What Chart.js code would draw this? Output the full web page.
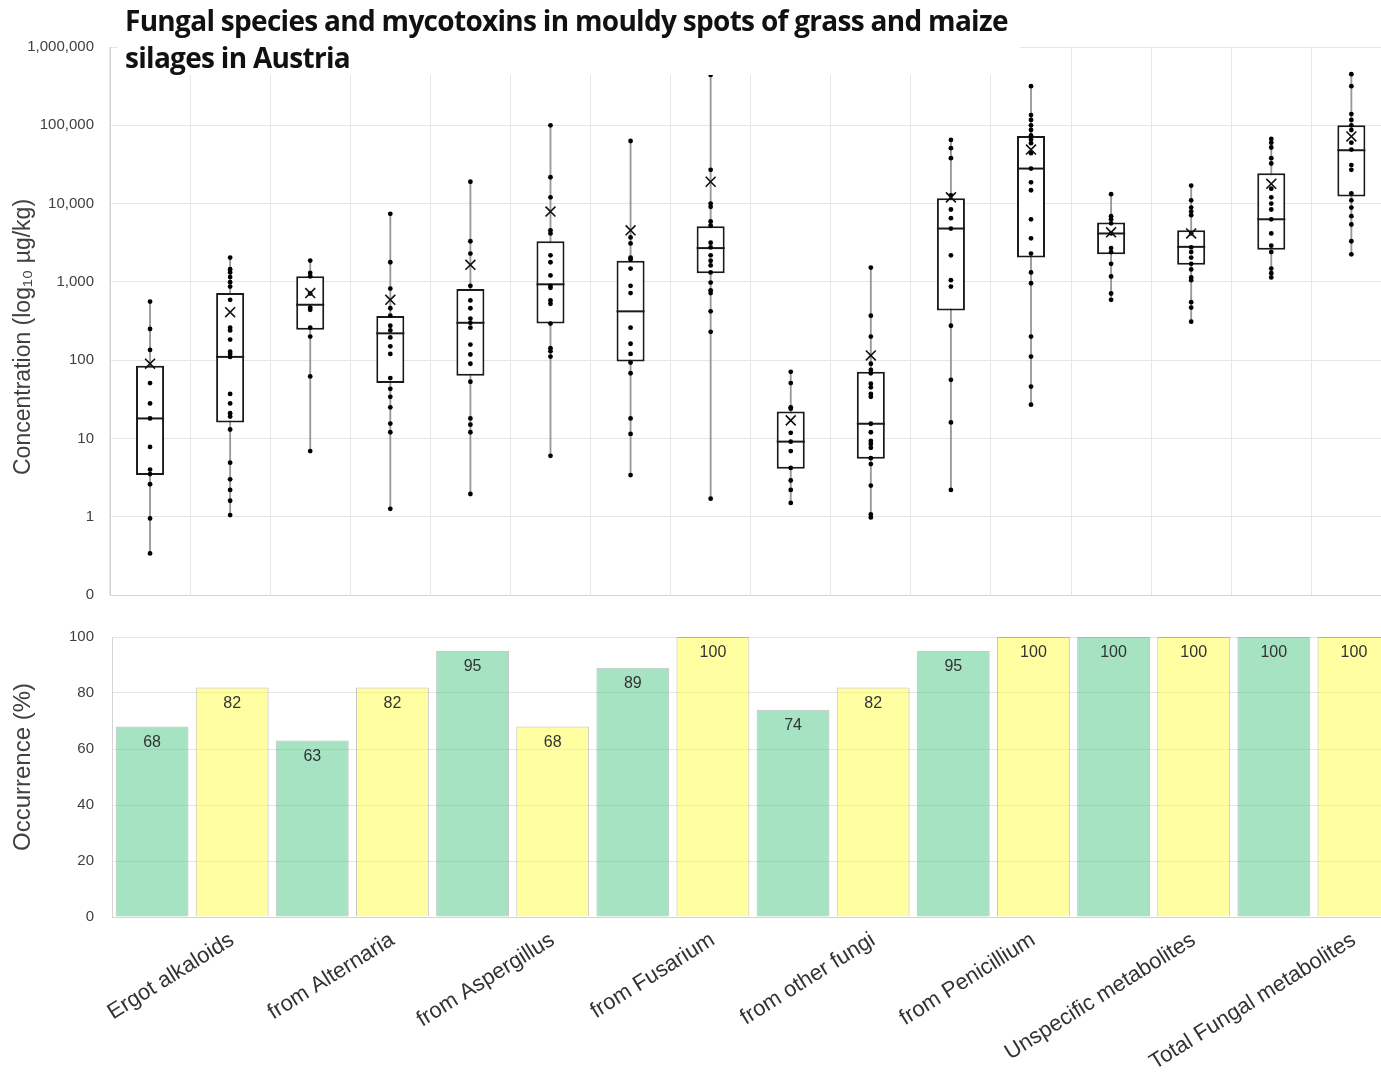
<!DOCTYPE html>
<html>
<head>
<meta charset="utf-8">
<script src="https://cdn.jsdelivr.net/npm/chart.js@4.4.1/dist/chart.umd.min.js"></script>
<style>
  html, body { margin: 0; padding: 0; background: #fff; overflow: hidden; }
  #page { position: relative; width: 1400px; height: 1080px; }
  #topBox { position: absolute; left: 0; top: 0; width: 1400px; height: 620px; }
  #bottomBox { position: absolute; left: 0; top: 610px; width: 1400px; height: 470px; }
  #title {
    position: absolute; left: 118px; top: 0; width: 902px; height: 75px;
    background: #fff; box-sizing: border-box; padding: 2px 0 0 7px;
    font-family: "Open Sans", sans-serif; font-weight: 700; font-size: 28px;
    line-height: 37px; letter-spacing: -0.7px; color: #111;
  }
</style>
</head>
<body>
<div id="page">
  <div id="topBox"><canvas id="boxChart"></canvas></div>
  <div id="title">Fungal species and mycotoxins in mouldy spots of grass and maize<br>silages in Austria</div>
  <div id="bottomBox"><canvas id="occChart"></canvas></div>
</div>
<script>
// groups on the x axis (each one has a grass box and a maize box)
const groupLabels = ['Ergot alkaloids', 'from Alternaria', 'from Aspergillus', 'from Fusarium',
  'from other fungi', 'from Penicillium', 'Unspecific metabolites', 'Total Fungal metabolites'];
const boxNames = groupLabels.flatMap(g => [g + ' (grass)', g + ' (maize)']);

// box plot values, µg/kg
const q1 = [3.4, 16, 245, 51, 63, 293, 96, 1290, 4.1, 5.5, 430, 2040, 2250, 1660, 2570, 12300];
const median = [18, 110, 510, 220, 300, 930, 420, 2700, 9.1, 15.4, 4800, 28000, 4150, 2800, 6300, 48000];
const q3 = [85, 720, 1180, 365, 810, 3300, 1860, 5130, 22, 71, 11700, 73000, 5750, 4560, 24400, 100000];
const whiskerLow = [0.34, 1.05, 6.9, 1.26, 1.95, 6.0, 3.4, 1.7, 1.5, 0.98, 2.2, 27, 590, 310, 1140, 2250];
const whiskerHigh = [560, 2040, 1870, 7400, 19000, 100000, 63000, 440000, 71, 1520, 65000, 316000, 13200, 17000, 67000, 450000];
const means = [90, 410, 720, 590, 1650, 7900, 4550, 19000, 17, 115, 12000, 49000, 4300, 4150, 17900, 72000];

// single samples shown as dots
const samples = [
  [560, 250, 135, 51, 28, 18, 7.8, 4, 3.5, 2.6, 0.95, 0.34],
  [2040, 1450, 1320, 1150, 990, 870, 590, 260, 240, 183, 128, 120, 110, 37, 28, 21, 19, 13, 4.9, 3.0, 2.2, 1.6, 1.05],
  [1870, 1300, 1180, 710, 470, 440, 260, 200, 62, 6.9],
  [7400, 1780, 820, 460, 370, 275, 240, 195, 150, 120, 59, 43, 34, 25, 15.5, 12, 1.26],
  [19000, 3300, 2300, 890, 580, 460, 340, 300, 260, 158, 118, 90, 53, 18, 15, 12, 1.95],
  [100000, 21700, 12000, 4550, 4150, 2180, 1780, 1210, 890, 840, 580, 525, 293, 142, 130, 111, 6.0],
  [63000, 3700, 3100, 2040, 1930, 1480, 890, 720, 260, 162, 120, 93, 68, 18, 11.4, 3.4],
  [440000, 27000, 10000, 9100, 5900, 5250, 3160, 2750, 2180, 1860, 1620, 1320, 980, 780, 720, 420, 230, 1.7],
  [71, 51, 25, 24, 11.8, 9.1, 6.9, 4.2, 2.9, 2.2, 1.5],
  [1520, 370, 200, 90, 75, 68, 50, 45, 37, 34, 15.4, 12, 9.3, 8.5, 7.6, 5.6, 4.7, 2.5, 1.07, 0.98],
  [65000, 51000, 38000, 12700, 8400, 6500, 4800, 2180, 1050, 870, 275, 56, 16, 2.2],
  [316000, 135000, 117000, 100000, 87000, 74000, 66000, 59000, 44000, 28000, 18700, 14800, 6300, 3600, 2300, 1320, 960, 200, 111, 46, 27],
  [13200, 6900, 6300, 5600, 4150, 2700, 2400, 1700, 1170, 710, 590],
  [17000, 11000, 8900, 7900, 7100, 4150, 2750, 2400, 2040, 1700, 1440, 1140, 1050, 550, 470, 310],
  [67000, 60000, 52000, 38000, 32500, 15500, 12000, 10000, 8400, 6300, 4150, 2900, 2400, 1480, 1290, 1140],
  [450000, 316000, 139000, 117000, 100000, 87000, 60000, 49000, 31000, 27000, 13500, 11000, 8900, 6900, 5400, 3300, 2250]
];

// log axis ticks (0.1 is shown as "0")
const concTicks = [0.1, 1, 10, 100, 1000, 10000, 100000, 1000000];

// occurrence in %
const occurrence = [68, 82, 63, 82, 95, 68, 89, 100, 74, 82, 95, 100, 100, 100, 100, 100];

const fontFamily = 'Liberation Sans, Arial, sans-serif';
const tickFont = { family: fontFamily, size: 15 };
const gridGray = '#e6e6e6';
const axisGray = '#d4d4d4';
const nb = n => '\u00a0'.repeat(n); // spaces to nudge the axis titles off centre

// median lines get drawn right after the boxes
const medianPlugin = {
  id: 'medians',
  afterDatasetDraw(chart, args) {
    if (args.meta.label !== 'box') return;
    const ctx = chart.ctx;
    const y = chart.scales.y;
    ctx.save();
    ctx.strokeStyle = '#1a1a1a';
    ctx.lineWidth = 2;
    args.meta.data.forEach((bar, i) => {
      const py = y.getPixelForValue(median[i]);
      ctx.beginPath();
      ctx.moveTo(bar.x - bar.width / 2, py);
      ctx.lineTo(bar.x + bar.width / 2, py);
      ctx.stroke();
    });
    ctx.restore();
  }
};

const dotData = [];
samples.forEach((list, i) => list.forEach(v => dotData.push({ x: boxNames[i], y: v })));

new Chart(document.getElementById('boxChart'), {
  type: 'bar',
  data: {
    labels: boxNames,
    datasets: [
      {
        type: 'scatter', label: 'mean', order: 0,
        data: means.map((v, i) => ({ x: boxNames[i], y: v })),
        pointStyle: 'crossRot', pointRadius: 7, borderColor: '#111', borderWidth: 1.6,
        backgroundColor: 'transparent'
      },
      {
        type: 'scatter', label: 'samples', order: 1,
        data: dotData,
        pointRadius: 2.4, backgroundColor: '#000', borderColor: '#000', borderWidth: 0
      },
      {
        label: 'box', order: 2, grouped: false,
        data: q1.map((v, i) => [v, q3[i]]),
        backgroundColor: '#fff', borderColor: '#1a1a1a', borderWidth: 2, borderSkipped: false,
        barPercentage: 0.35, categoryPercentage: 1
      },
      {
        label: 'whisker', order: 3, grouped: false,
        data: whiskerLow.map((v, i) => [v, whiskerHigh[i]]),
        backgroundColor: '#999', borderWidth: 0, barThickness: 1.2
      }
    ]
  },
  options: {
    responsive: true, maintainAspectRatio: false, animation: false,
    layout: { padding: { top: 47, bottom: 6, right: 6, left: 10 } },
    plugins: { legend: { display: false }, tooltip: { enabled: false } },
    scales: {
      x: {
        type: 'category', offset: true,
        afterFit: s => { s.height = 0; },
        grid: { color: gridGray, offset: true, drawTicks: false },
        border: { color: axisGray },
        ticks: { display: false }
      },
      y: {
        type: 'logarithmic', min: 0.1, max: 1000000,
        afterBuildTicks: s => { s.ticks = concTicks.map(v => ({ value: v })); },
        afterFit: s => { s.width = 100; },
        grid: { color: gridGray, drawTicks: false },
        border: { color: axisGray },
        ticks: {
          font: tickFont, color: '#404040', padding: 16,
          callback: v => v < 1 ? '0' : Number(v).toLocaleString('en-US')
        },
        title: {
          display: true, text: 'Concentration (log₁₀ µg/kg)' + nb(5), color: '#404040',
          font: { family: fontFamily, size: 23 }, padding: { top: 0, bottom: 2 }
        }
      }
    }
  },
  plugins: [medianPlugin]
});

// value labels inside the bars
const barLabelPlugin = {
  id: 'barLabels',
  afterDatasetsDraw(chart) {
    const ctx = chart.ctx;
    ctx.save();
    ctx.font = '16px ' + fontFamily;
    ctx.fillStyle = '#333';
    ctx.textAlign = 'center';
    ctx.textBaseline = 'middle';
    chart.getDatasetMeta(0).data.forEach((bar, i) => {
      ctx.fillText(String(occurrence[i]), bar.x, bar.y + 16);
    });
    ctx.restore();
  }
};

new Chart(document.getElementById('occChart'), {
  type: 'bar',
  data: {
    labels: boxNames,
    datasets: [{
      data: occurrence,
      backgroundColor: occurrence.map((v, i) => i % 2 === 0 ? 'rgba(77,200,135,0.5)' : 'rgba(255,255,70,0.5)'),
      borderColor: 'rgba(0,0,0,0.22)', borderWidth: 1,
      barPercentage: 0.91, categoryPercentage: 1
    }]
  },
  options: {
    responsive: true, maintainAspectRatio: false, animation: false,
    layout: { padding: { top: 21, right: 6, left: 9, bottom: 0 } },
    plugins: { legend: { display: false }, tooltip: { enabled: false } },
    scales: {
      x: {
        grid: { display: false },
        border: { color: axisGray },
        afterFit: s => { s.height = 163; },
        ticks: {
          autoSkip: false, maxRotation: 32, minRotation: 32, padding: 2,
          font: { family: fontFamily, size: 22 }, color: '#333',
          callback: (v, i) => i % 2 === 1 ? groupLabels[(i - 1) / 2] : ''
        }
      },
      y: {
        min: 0, max: 100,
        afterFit: s => { s.width = 103; },
        grid: { color: gridGray, drawTicks: false },
        border: { color: axisGray },
        ticks: { stepSize: 20, font: tickFont, color: '#404040', padding: 18 },
        title: {
          display: true, text: nb(3) + 'Occurrence (%)', color: '#404040',
          font: { family: fontFamily, size: 24 }, padding: { top: 0, bottom: 2 }
        }
      }
    }
  },
  plugins: [barLabelPlugin]
});
</script>
</body>
</html>
